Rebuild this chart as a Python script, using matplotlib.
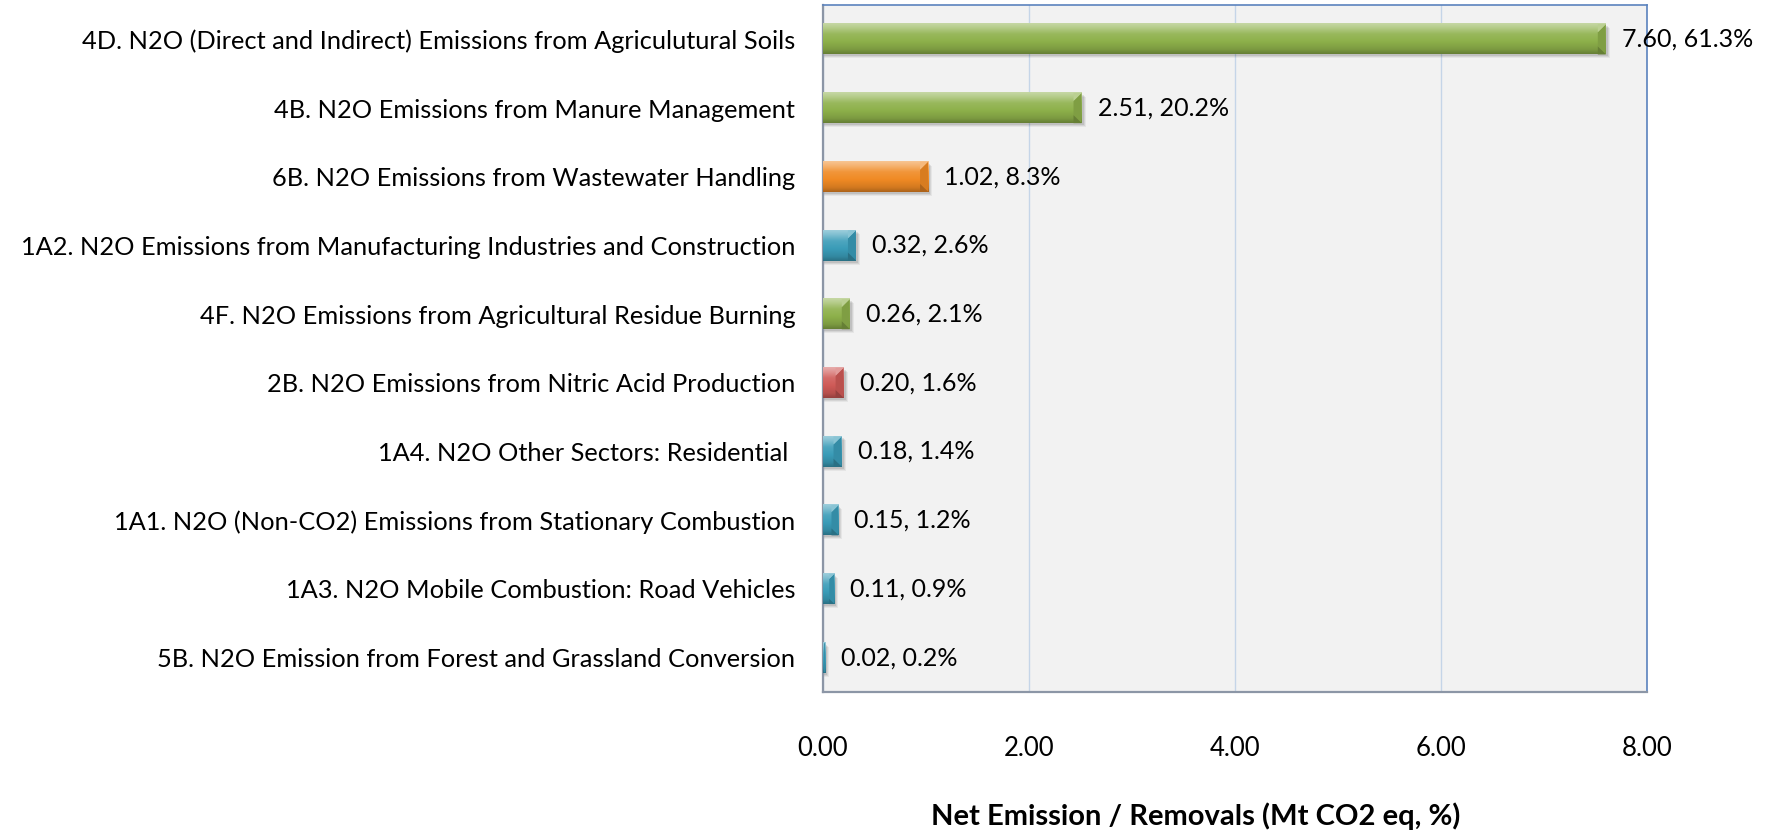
import numpy as np
import matplotlib
matplotlib.use("Agg")
import matplotlib.pyplot as plt
from matplotlib.colors import to_rgb
from matplotlib.patches import Polygon

# N2O sources, top to bottom
categories = [
    "4D. N2O (Direct and Indirect) Emissions from Agriculutural Soils",
    "4B. N2O Emissions from Manure Management",
    "6B. N2O Emissions from Wastewater Handling",
    "1A2. N2O Emissions from Manufacturing Industries and Construction",
    "4F. N2O Emissions from Agricultural Residue Burning",
    "2B. N2O Emissions from Nitric Acid Production",
    "1A4. N2O Other Sectors: Residential ",
    "1A1. N2O (Non-CO2) Emissions from Stationary Combustion",
    "1A3. N2O Mobile Combustion: Road Vehicles",
    "5B. N2O Emission from Forest and Grassland Conversion",
]
emissions = [7.60, 2.51, 1.02, 0.32, 0.26, 0.20, 0.18, 0.15, 0.11, 0.02]
shares = [61.3, 20.2, 8.3, 2.6, 2.1, 1.6, 1.4, 1.2, 0.9, 0.2]
sectors = ["agri", "agri", "waste", "energy", "agri", "industry",
           "energy", "energy", "energy", "energy"]
xticks = [0, 2, 4, 6, 8]

sector_colors = {
    "agri": "#8DB04A",
    "waste": "#F08A24",
    "energy": "#3A9CB8",
    "industry": "#CF5A57",
}

FONT = ["Lato", "DejaVu Sans"]
plt.rcParams["font.family"] = FONT

W, H = 1777, 832
fig = plt.figure(figsize=(W / 100, H / 100), dpi=100)
ax = fig.add_axes([823 / W, 1 - 692 / H, (1647 - 823) / W, (692 - 5) / H])
ax.set_facecolor("#F2F2F2")

n = len(categories)
ypos = np.arange(n)
bar_h = 0.44
ax.set_xlim(0, 8)
ax.set_ylim(n - 0.5, -0.5)

px_per_unit = (1647 - 823) / 8.0
px_per_row = (692 - 5) / n


def mix(c, other, t):
    c = np.array(to_rgb(c))
    o = np.array(to_rgb(other))
    return c * (1 - t) + o * t


def bevel_bar(y, width, color):
    top, bot = y - bar_h / 2, y + bar_h / 2
    # soft drop shadow
    for k, a in ((4, 0.05), (3, 0.07), (2, 0.09)):
        dy = k / px_per_row
        dx = k / px_per_unit
        ax.add_patch(plt.Rectangle((0, top + dy), width + dx, bar_h,
                                   facecolor="black", alpha=a, lw=0, zorder=2))
    # vertical gradient: light top, base middle, dark bottom
    stops = np.array([0.0, 0.12, 0.35, 0.6, 0.85, 1.0])
    cols = np.array([mix(color, "white", 0.50), mix(color, "white", 0.38),
                     mix(color, "white", 0.10), np.array(to_rgb(color)),
                     mix(color, "black", 0.12), mix(color, "black", 0.28)])
    t = np.linspace(0, 1, 64)
    grad = np.stack([np.interp(t, stops, cols[:, i]) for i in range(3)], axis=-1)
    img = grad[:, None, :]
    ax.imshow(img, extent=(0, width, bot, top), origin="upper",
              aspect="auto", zorder=3, interpolation="bilinear")
    # bevelled right end
    bev = min(8 / px_per_unit, width * 0.45)
    bh = min(bev * px_per_unit / px_per_row, bar_h * 0.3)
    x1 = width
    x0 = width - bev
    ax.add_patch(Polygon([(x0, top + bh), (x1, top), (x1, bot), (x0, bot - bh)],
                         closed=True, facecolor=mix(color, "black", 0.10),
                         lw=0, zorder=4))
    ax.add_patch(Polygon([(x0, top + bh), (x1, top), (x0, top)],
                         closed=True, facecolor=mix(color, "white", 0.40),
                         lw=0, zorder=4))
    ax.add_patch(Polygon([(x0, bot - bh), (x1, bot), (x0, bot)],
                         closed=True, facecolor=mix(color, "black", 0.28),
                         lw=0, zorder=4))


for y, v, s in zip(ypos, emissions, sectors):
    bevel_bar(y, v, sector_colors[s])

for y, v, p in zip(ypos, emissions, shares):
    ax.annotate(f"{v:.2f}, {p:.1f}%", xy=(v, y), xytext=(16, 0),
                textcoords="offset pixels", va="center", ha="left",
                fontsize=18, color="#000000", zorder=6,
                annotation_clip=False)

ax.set_xlim(0, 8)
ax.set_ylim(n - 0.5, -0.5)

ax.set_xticks(xticks)
ax.set_xticklabels([f"{x:.2f}" for x in xticks], fontsize=18.5)
ax.set_yticks(ypos)
ax.set_yticklabels(categories, fontsize=18.3)
ax.tick_params(axis="x", length=0, pad=32)
ax.tick_params(axis="y", length=0, pad=20)

ax.grid(axis="x", color="#C5D5E8", lw=1.0, zorder=1)
ax.set_axisbelow(True)

for side in ("top", "right"):
    ax.spines[side].set_color("#5B83BE")
    ax.spines[side].set_linewidth(1.2)
for side in ("left", "bottom"):
    ax.spines[side].set_color("#8C96A6")
    ax.spines[side].set_linewidth(1.6)

fig.text(1196 / W, 1 - 816 / H, "Net Emission / Removals (Mt CO2 eq, %)",
         ha="center", va="center", fontsize=21, fontweight="bold")

fig.savefig("out.png", dpi=100, facecolor="white")
